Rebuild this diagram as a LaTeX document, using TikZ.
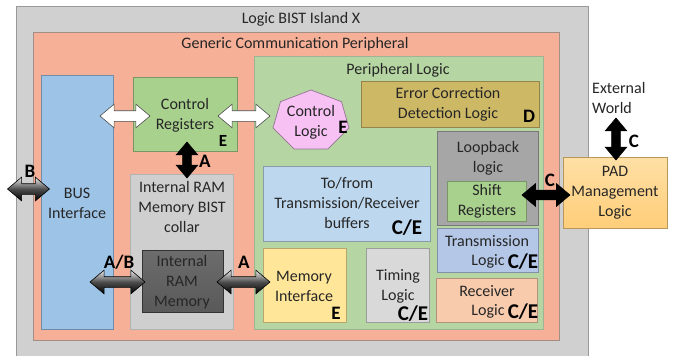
\documentclass[tikz,border=0pt]{standalone}
\usepackage{fontspec}
\setmainfont{Carlito}
\usetikzlibrary{shapes.arrows,shapes.geometric,calc}
\definecolor{cOuter}{HTML}{D0D0D0}
\definecolor{cSalmon}{HTML}{F5B097}
\definecolor{cGreen}{HTML}{B5D6A2}
\definecolor{cReg}{HTML}{A9D18E}
\definecolor{cBus}{HTML}{9DC3E6}
\definecolor{cBuf}{HTML}{BDD7EE}
\definecolor{cErr}{HTML}{CDB865}
\definecolor{cLoop}{HTML}{A6A6A6}
\definecolor{cTrans}{HTML}{B4C7E7}
\definecolor{cRecv}{HTML}{F8CBAD}
\definecolor{cTiming}{HTML}{D9D9D9}
\definecolor{cMem}{HTML}{FFE699}
\definecolor{cCollar}{HTML}{CFCFCF}
\definecolor{cRam}{HTML}{808080}
\definecolor{cPad}{HTML}{FFD27F}
\definecolor{cHept}{HTML}{F7C1F4}
\begin{document}
\begin{tikzpicture}[x=1pt,y=-1pt,
  box/.style={draw=#1!72!black, fill=#1, line width=0.7pt, inner sep=0pt, anchor=north west},
  txt/.style={font=\fontsize{16}{20}\selectfont, align=center, inner sep=0pt, text=black!85},
  lbl/.style={font=\fontsize{19}{19}\selectfont\bfseries, inner sep=0pt},
  lblbig/.style={font=\fontsize{21}{21}\selectfont\bfseries, inner sep=0pt},
  fat/.style={double arrow, line width=0.6pt, inner sep=0pt,
    double arrow head extend=6.5pt, double arrow tip angle=80,
    minimum height=#1},
  whitearrow/.style={fat=#1, draw=black!70, fill=white},
  blackarrow/.style={fat=#1, draw=black, fill=black},
  metalarrow/.style={fat=#1, draw=black, top color=white!85!gray, bottom color=black, middle color=gray!60!black},
]
\useasboundingbox (0,0) rectangle (673,356);
% containers
\node[box=cOuter, draw=gray!80, minimum width=572pt, minimum height=352pt] (island) at (16,6) {};
\node[box=cSalmon, draw=gray!70!cSalmon, minimum width=526pt, minimum height=308pt] (gcp) at (33,32) {};
\node[box=cGreen, draw=gray!40!cGreen, minimum width=289pt, minimum height=273pt] (plog) at (254,56) {};
\node[txt] (tIsland) at (301,19) {Logic BIST Island X};
\node[txt] (tGcp) at (295,44) {Generic Communication Peripheral};
\node[txt] (tPlog) at (398,70) {Peripheral Logic};
% boxes
\node[box=cBus, minimum width=72pt, minimum height=254pt] (bus) at (41,75) {};
\node[box=cReg, minimum width=104pt, minimum height=74pt] (creg) at (133,77) {};
\node[box=cCollar, draw=gray!60, minimum width=103pt, minimum height=155pt] (collar) at (130,174) {};
\node[box=cRam, draw=gray!40!black, top color=gray!85!black, bottom color=gray!70!black, minimum width=81pt, minimum height=62pt] (ram) at (142,250) {};
\node[box=cErr, minimum width=178pt, minimum height=46pt] (err) at (361,81) {};
\node[box=cLoop, minimum width=101pt, minimum height=94pt] (loop) at (437,131) {};
\node[box=cReg, minimum width=79pt, minimum height=40pt] (shift) at (447,181) {};
\node[box=cTrans, minimum width=101pt, minimum height=44pt] (trans) at (437,228) {};
\node[box=cRecv, minimum width=101pt, minimum height=44pt] (recv) at (436,278) {};
\node[box=cTiming, minimum width=63pt, minimum height=74pt] (timing) at (366,248) {};
\node[box=cMem, minimum width=83pt, minimum height=74pt] (memif) at (263,248) {};
\node[box=cBuf, minimum width=167pt, minimum height=75pt] (buf) at (263,166) {};
\node[box=cPad, top color=cPad!70!white, bottom color=cPad!95!orange, minimum width=104pt, minimum height=71pt] (pad) at (563,157) {};
% heptagon
\coordinate (cl) at (311,121);
\draw[draw=cHept!60!black, fill=cHept, line width=0.7pt] ($(cl)+(-90:39 and 31)$)
  \foreach \k in {1,...,6}{ -- ($(cl)+(-90+\k*51.4286:39 and 31)$)} -- cycle;
% texts
\node[txt] (tBus) at (77,203) {BUS\\Interface};
\node[txt] (tCreg) at (185,115) {Control\\Registers};
\node[lbl, font=\fontsize{17}{17}\selectfont\bfseries] (eCreg) at (223,141) {E};
\node[txt] (tCl) at (311,122) {Control\\Logic};
\node[lbl] (eCl) at (343,127) {E};
\node[txt] (tErr) at (448,104.5) {Error Correction\\Detection Logic};
\node[lbl] (dErr) at (529,116) {D};
\node[txt] (tLoop) at (488,158) {Loopback\\logic};
\node[txt] (tShift) at (487,201.5) {Shift\\Registers};
\node[txt] (tTrans1) at (487,241) {Transmission};
\node[txt] (tTrans2) at (488,261) {Logic};
\node[lblbig] (ceTrans) at (523,262) {C/E};
\node[txt] (tRecv1) at (487,291) {Receiver};
\node[txt] (tRecv2) at (488,311) {Logic};
\node[lblbig] (ceRecv) at (523,312) {C/E};
\node[txt] (tTiming) at (398,286) {Timing\\Logic};
\node[lblbig] (ceTiming) at (413,314) {C/E};
\node[txt] (tMem) at (304,286) {Memory\\Interface};
\node[lbl] (eMem) at (336,313) {E};
\node[txt] (tBuf) at (347,203.5) {To/from\\Transmission/Receiver\\buffers};
\node[lblbig] (ceBuf) at (407,228) {C/E};
\node[txt] (tCollar) at (182,207.5) {Internal RAM\\Memory BIST\\collar};
\node[txt] (tRam) at (182,282) {Internal\\RAM\\Memory};
\node[txt] (tPad) at (615,193) {PAD\\Management\\Logic};
\node[txt, anchor=west, align=left] (tExt) at (592,98) {External\\World};
% arrows
\node[whitearrow=50pt] (w1) at (125,116) {\rule{0pt}{10pt}};
\node[whitearrow=52pt] (w2) at (244,116) {\rule{0pt}{10pt}};
\node[blackarrow=36pt, rotate=90] (vA) at (187,160) {\rule{0pt}{8pt}};
\node[metalarrow=55pt] (aAB) at (117.5,282) {\rule{0pt}{10pt}};
\node[metalarrow=53pt] (aA) at (243.5,282) {\rule{0pt}{10pt}};
\node[metalarrow=42pt] (aB) at (28.5,189) {\rule{0pt}{10pt}};
\node[blackarrow=48pt] (cH) at (546,195) {\rule{0pt}{9pt}};
\node[blackarrow=42pt, rotate=90] (cV) at (616,139) {\rule{0pt}{8pt}};
% arrow labels
\node[lbl] (lA1) at (205,161) {A};
\node[lbl] (lAB) at (119,262) {A/B};
\node[lbl] (lA2) at (244,262) {A};
\node[lbl] (lB) at (30,171) {B};
\node[lbl] (lC1) at (550,180) {C};
\node[lbl] (lC2) at (634,141) {C};
\end{tikzpicture}
\end{document}
